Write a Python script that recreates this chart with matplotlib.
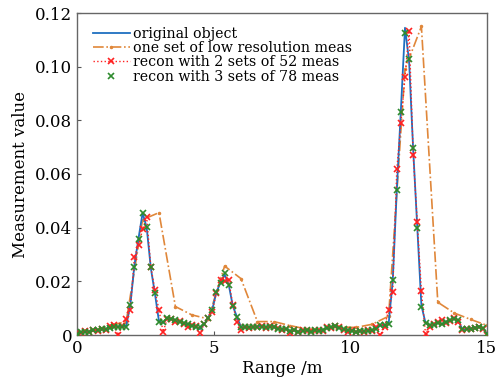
import numpy as np
import matplotlib
matplotlib.use("Agg")
import matplotlib.pyplot as plt

plt.rcParams['font.family'] = ['DejaVu Serif']
plt.rcParams['mathtext.fontset'] = 'dejavuserif'

# Range axis (m)
x_start, x_end = 0.0, 15.0

original = [
    0.0005, 0.0010, 0.0012, 0.0014, 0.0016, 0.0018, 0.0020, 0.0023, 0.0026, 0.0030,
    0.0032, 0.0030, 0.0035, 0.0110, 0.0260, 0.0360, 0.0455, 0.0400, 0.0250, 0.0155,
    0.0050, 0.0045, 0.0062, 0.0060, 0.0055, 0.0050, 0.0045, 0.0040, 0.0035, 0.0030,
    0.0022, 0.0040, 0.0064, 0.0095, 0.0160, 0.0195, 0.0225, 0.0188, 0.0108, 0.0068,
    0.0030, 0.0027, 0.0030, 0.0028, 0.0032, 0.0030, 0.0028, 0.0030, 0.0032, 0.0025,
    0.0020, 0.0022, 0.0015, 0.0018, 0.0012, 0.0015, 0.0018, 0.0013, 0.0017, 0.0015,
    0.0020, 0.0025, 0.0030, 0.0032, 0.0028, 0.0022, 0.0018, 0.0015, 0.0012, 0.0015,
    0.0013, 0.0016, 0.0018, 0.0025, 0.0035, 0.0038, 0.0040, 0.0200, 0.0540, 0.0840,
    0.1145, 0.1020, 0.0690, 0.0400, 0.0110, 0.0045, 0.0035, 0.0040, 0.0045, 0.0040,
    0.0050, 0.0055, 0.0060, 0.0055, 0.0020, 0.0022, 0.0025, 0.0025, 0.0030, 0.0025,
    0.0005,
]

low_res = [
    0.0005, 0.0018, 0.0035, 0.0050, 0.0430, 0.0456, 0.0106, 0.0075, 0.0060, 0.0257,
    0.0210, 0.0050, 0.0050, 0.0035, 0.0022, 0.0020, 0.0030, 0.0028, 0.0040, 0.0070,
    0.0990, 0.1150, 0.0122, 0.0082, 0.0058, 0.0036,
]

recon_2x52 = [
    0.0006, 0.0009, 0.0014, 0.0012, 0.0018, 0.0016, 0.0024, 0.0020, 0.0034, 0.0037,
    0.0000, 0.0033, 0.0060, 0.0093, 0.0290, 0.0335, 0.0394, 0.0440, 0.0255, 0.0168,
    0.0093, 0.0012, 0.0060, 0.0058, 0.0050, 0.0052, 0.0042, 0.0030, 0.0038, 0.0032,
    0.0006, 0.0041, 0.0062, 0.0087, 0.0158, 0.0205, 0.0200, 0.0205, 0.0112, 0.0050,
    0.0019, 0.0030, 0.0027, 0.0031, 0.0029, 0.0033, 0.0026, 0.0032, 0.0029, 0.0027,
    0.0018, 0.0024, 0.0006, 0.0020, 0.0010, 0.0017, 0.0015, 0.0016, 0.0014, 0.0019,
    0.0016, 0.0029, 0.0027, 0.0035, 0.0030, 0.0020, 0.0012, 0.0017, 0.0010, 0.0016,
    0.0011, 0.0018, 0.0015, 0.0028, 0.0000, 0.0030, 0.0093, 0.0160, 0.0617, 0.0790,
    0.0960, 0.1134, 0.0670, 0.0420, 0.0164, 0.0004, 0.0030, 0.0042, 0.0050, 0.0056,
    0.0045, 0.0052, 0.0062, 0.0048, 0.0019, 0.0024, 0.0021, 0.0027, 0.0030, 0.0022,
    0.0000,
]

recon_3x78 = [
    0.0004, 0.0011, 0.0013, 0.0013, 0.0017, 0.0019, 0.0021, 0.0024, 0.0027, 0.0031,
    0.0031, 0.0029, 0.0030, 0.0112, 0.0255, 0.0357, 0.0456, 0.0401, 0.0255, 0.0158,
    0.0050, 0.0050, 0.0062, 0.0061, 0.0056, 0.0049, 0.0046, 0.0041, 0.0034, 0.0028,
    0.0030, 0.0040, 0.0062, 0.0093, 0.0161, 0.0193, 0.0230, 0.0186, 0.0108, 0.0068,
    0.0030, 0.0028, 0.0029, 0.0029, 0.0031, 0.0030, 0.0029, 0.0031, 0.0031, 0.0024,
    0.0021, 0.0021, 0.0016, 0.0017, 0.0013, 0.0014, 0.0019, 0.0012, 0.0018, 0.0016,
    0.0019, 0.0026, 0.0031, 0.0033, 0.0027, 0.0021, 0.0019, 0.0014, 0.0013, 0.0014,
    0.0014, 0.0015, 0.0019, 0.0024, 0.0036, 0.0037, 0.0040, 0.0205, 0.0540, 0.0830,
    0.1124, 0.1028, 0.0696, 0.0400, 0.0105, 0.0043, 0.0036, 0.0039, 0.0046, 0.0041,
    0.0049, 0.0056, 0.0058, 0.0056, 0.0021, 0.0022, 0.0024, 0.0026, 0.0029, 0.0026,
    0.0002,
]

labels = ["original object", "one set of low resolution meas",
          "recon with 2 sets of 52 meas", "recon with 3 sets of 78 meas"]

x_fine = np.linspace(x_start, x_end, len(original))
x_low = np.linspace(x_start, x_end, len(low_res))

fig = plt.figure(figsize=(4.97, 3.85), dpi=100)
ax = fig.add_axes([77/497, 1 - 335/385, (487 - 77)/497, (335 - 13)/385])

ax.plot(x_fine, original, color='#1F6FC0', lw=1.3, label=labels[0], zorder=2)
ax.plot(x_low, low_res, color='#E0873A', lw=1.2, ls='-.', marker='.', ms=3,
        label=labels[1], zorder=1)
ax.plot(x_fine, recon_2x52, color='#FF2222', lw=1.0, ls=':', marker='x', ms=4.5,
        mew=1.2, label=labels[2], zorder=3)
ax.plot(x_fine, recon_3x78, color='#2E8B2E', ls='none', marker='x', ms=4.5,
        mew=1.2, label=labels[3], zorder=4)

ax.set_xlim(0, 15)
ax.set_ylim(0, 0.12)
ax.set_xticks([0, 5, 10, 15])
ax.set_xticklabels(['0', '5', '10', '15'])
ax.set_yticks([0, 0.02, 0.04, 0.06, 0.08, 0.10, 0.12])
ax.set_yticklabels(['0', '0.02', '0.04', '0.06', '0.08', '0.10', '0.12'])
ax.tick_params(direction='in', length=3, width=0.8, labelsize=12, color='#555555')
for s in ax.spines.values():
    s.set_color('#666666')
    s.set_linewidth(1.0)

ax.set_xlabel('Range /m', fontsize=12, labelpad=2)
ax.set_ylabel('Measurement value', fontsize=12, labelpad=4)

ax.legend(loc='upper left', frameon=False, fontsize=10.2, handlelength=2.6,
          handletextpad=0.2, labelspacing=0.02, borderaxespad=0.0,
          bbox_to_anchor=(0.025, 0.975))

fig.savefig('out.png', dpi=100)
